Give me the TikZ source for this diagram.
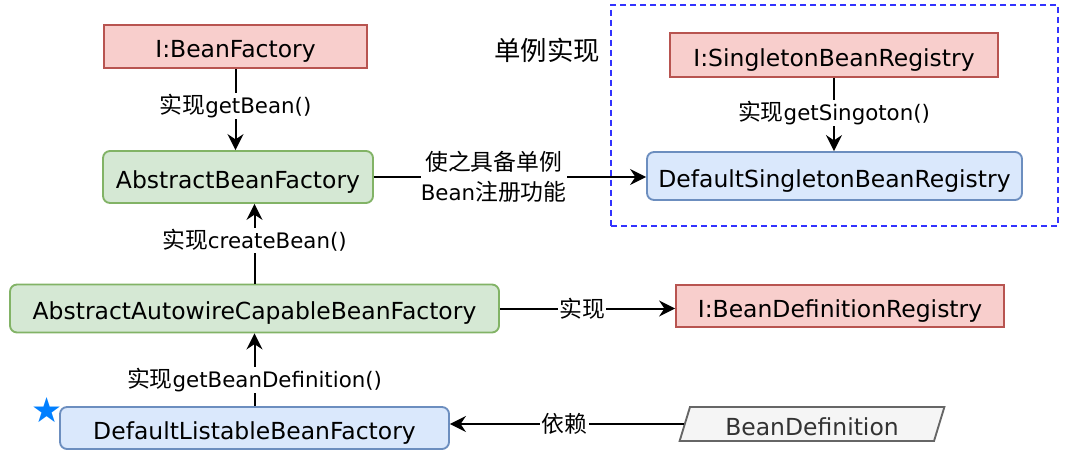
\documentclass[tikz,border=0pt]{standalone}
\usepackage{fontspec}
\setmainfont{DejaVu Sans}
\newfontfamily\cjk[Scale=1.07]{Noto Sans CJK SC}
\usetikzlibrary{arrows.meta,shapes.geometric}
\definecolor{ifill}{HTML}{F8CECC}
\definecolor{idraw}{HTML}{B85450}
\definecolor{gfill}{HTML}{D5E8D4}
\definecolor{gdraw}{HTML}{82B366}
\definecolor{bfill}{HTML}{DAE8FC}
\definecolor{bdraw}{HTML}{6C8EBF}
\definecolor{pfill}{HTML}{F5F5F5}
\definecolor{pdraw}{HTML}{666666}
\definecolor{ptext}{HTML}{333333}
\definecolor{grpblue}{HTML}{3333FF}
\definecolor{starblue}{HTML}{007FFF}
\tikzset{
  boxtext/.style={font=\fontsize{17.6}{20}\selectfont, text height=17pt, text depth=0pt},
  iface/.style={boxtext, rectangle, fill=ifill, draw=idraw, line width=1.4pt, inner sep=0pt},
  absbox/.style={boxtext, rectangle, rounded corners=5.25pt, fill=gfill, draw=gdraw, line width=1.4pt, inner sep=0pt},
  implbox/.style={boxtext, rectangle, rounded corners=5.25pt, fill=bfill, draw=bdraw, line width=1.4pt, inner sep=0pt},
  databox/.style={boxtext, trapezium, trapezium left angle=72, trapezium right angle=108, trapezium stretches=true, fill=pfill, draw=pdraw, line width=1.4pt, inner sep=0pt, text=ptext},
  conn/.style={line width=1.5pt, -{Stealth[length=12pt,width=12pt,inset=4pt]}},
  lbl/.style={fill=white, inner sep=1pt, font=\fontsize{16}{22}\selectfont},
}
\begin{document}
\begin{tikzpicture}[x=0.75pt,y=-0.75pt]
\useasboundingbox (0,0) rectangle (1073,452);
% group frame
\node (grp) [draw=grpblue, dash pattern=on 4.5pt off 3pt, line width=1.4pt, minimum width=335.25pt, minimum height=165.75pt, inner sep=0pt] at (834.5,115.5) {};
\node (grplbl) at (547,50) {\fontsize{18.5}{20}\selectfont\cjk 单例实现};
% nodes
\node (bf) [iface, minimum width=197.25pt, minimum height=32.25pt] at (235.5,46.5) {I:BeanFactory};
\node (abf) [absbox, minimum width=202.5pt, minimum height=39pt] at (238,177) {AbstractBeanFactory};
\node (aacbf) [absbox, minimum width=366.75pt, minimum height=36pt] at (254.5,308.5) {AbstractAutowireCapableBeanFactory};
\node (dlbf) [implbox, minimum width=291.75pt, minimum height=31.5pt] at (254.5,428) {DefaultListableBeanFactory};
\node (sbr) [iface, minimum width=246pt, minimum height=33pt] at (834,55) {I:SingletonBeanRegistry};
\node (dsbr) [implbox, minimum width=281.25pt, minimum height=36pt] at (834.5,176) {DefaultSingletonBeanRegistry};
\node (bdr) [iface, minimum width=246pt, minimum height=31.5pt] at (840,306) {I:BeanDefinitionRegistry};
\node (bd) [databox, minimum width=198.75pt, minimum height=25.5pt] at (812,424) {BeanDefinition};
\node (star) [text=starblue, font=\fontsize{26}{28}\selectfont] at (47,410) {★};
% connectors
\draw[conn] (bf.south) -- node[lbl, pos=0.46] {{\cjk 实现}getBean()} (bf.south |- abf.north);
\draw[conn] (aacbf.north) -- node[lbl, pos=0.54] {{\cjk 实现}createBean()} (aacbf.north |- abf.south);
\draw[conn] (dlbf.north) -- node[lbl, pos=0.36] {{\cjk 实现}getBeanDefinition()} (aacbf.south);
\draw[conn] (sbr.south) -- node[lbl, pos=0.48] {{\cjk 实现}getSingoton()} (sbr.south |- dsbr.north);
\draw[conn] (abf.east) -- node[lbl, pos=0.44, align=center, inner sep=0pt] {{\cjk 使之具备单例}\\Bean{\cjk 注册功能}} (abf.east -| dsbr.west);
\draw[conn] (aacbf.east) -- node[lbl, pos=0.47] {\cjk 实现} (aacbf.east -| bdr.west);
\draw[conn] (bd.west) -- node[lbl, pos=0.51] {\cjk 依赖} (bd.west -| dlbf.east);
\end{tikzpicture}
\end{document}
